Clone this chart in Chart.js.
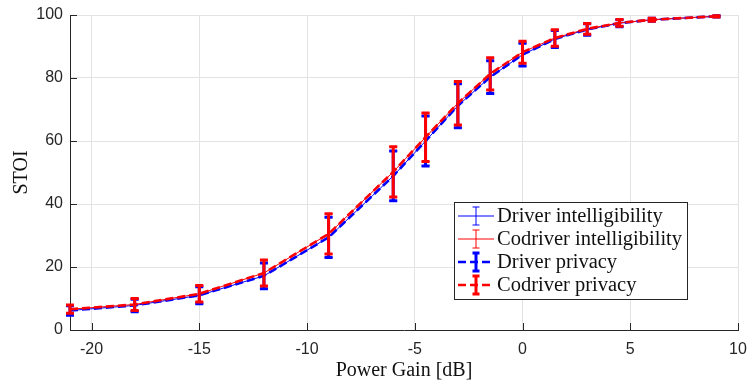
<!DOCTYPE html>
<html lang="en">
<head>
<meta charset="UTF-8">
<title>STOI vs Power Gain</title>
<script src="https://cdn.jsdelivr.net/npm/chart.js@4.4.0/dist/chart.umd.min.js"></script>
<style>
    body { margin: 0; background: #fff; }
    #wrap { width: 747px; height: 380px; }
</style>
</head>
<body>
<div id="wrap"><canvas id="stoi" width="747" height="380"></canvas></div>
<script>
// power gain in dB (x positions of the measurements)
const gains = [-21, -18, -15, -12, -9, -6, -4.5, -3, -1.5, 0, 1.5, 3, 4.5, 6, 9];

// STOI means and half-widths of the error bars
const driverIntel      = [6.2, 7.8, 11.0, 17.2, 29.4, 48.9, 60.0, 71.2, 80.3, 87.4, 92.4, 95.4, 97.4, 98.5, 99.6];
const driverIntelErr   = [1.5, 2.0, 2.7, 4.1, 6.4, 7.9, 7.9, 7.0, 5.2, 3.6, 2.7, 1.8, 1.1, 0.5, 0.2];
const codriverIntel    = [6.6, 8.1, 11.5, 18.1, 30.5, 50.2, 61.2, 72.0, 81.3, 88.2, 92.7, 95.6, 97.5, 98.5, 99.6];
const codriverIntelErr = [1.3, 1.9, 2.6, 4.1, 6.4, 8.0, 7.7, 6.9, 5.1, 3.5, 2.6, 1.7, 1.1, 0.5, 0.2];
const driverPriv       = [6.2, 7.8, 11.0, 17.2, 29.4, 48.9, 60.0, 71.2, 80.3, 87.4, 92.4, 95.4, 97.4, 98.5, 99.6];
const driverPrivErr    = [1.5, 2.0, 2.7, 4.1, 6.4, 7.9, 7.9, 7.0, 5.2, 3.6, 2.7, 1.8, 1.1, 0.5, 0.2];
const codriverPriv     = [6.6, 8.1, 11.5, 18.1, 30.5, 50.2, 61.2, 72.0, 81.3, 88.2, 92.7, 95.6, 97.5, 98.5, 99.6];
const codriverPrivErr  = [1.3, 1.9, 2.6, 4.1, 6.4, 8.0, 7.7, 6.9, 5.1, 3.5, 2.6, 1.7, 1.1, 0.5, 0.2];

const seriesLabels = ['Driver intelligibility', 'Codriver intelligibility', 'Driver privacy', 'Codriver privacy'];
const xTicks = [-20, -15, -10, -5, 0, 5, 10];
const yTicks = [0, 20, 40, 60, 80, 100];

const AXIS = '#262626';
const SERIF = '"Liberation Serif", "DejaVu Serif", serif';
const SANS = '"Liberation Sans", Arial, sans-serif';

function points(ys) {
    return gains.map((g, i) => ({ x: g, y: ys[i] }));
}

function series(label, ys, errs, color, dashed, order) {
    return {
        label: label,
        data: points(ys),
        errors: errs,
        borderColor: color,
        backgroundColor: color,
        borderWidth: dashed ? 2.6 : 1,
        borderDash: dashed ? [8, 4] : [],
        barWidth: dashed ? 3 : 1,
        pointRadius: 0,
        tension: 0,
        order: order
    };
}

// draws the error bars right after each line, so the stacking follows the lines
const errorBars = {
    id: 'errorBars',
    afterDatasetDraw(chart, args) {
        const ds = chart.data.datasets[args.index];
        if (!ds.errors) return;
        const xs = chart.scales.x, ys = chart.scales.y, ctx = chart.ctx;
        const cap = 4;
        ctx.save();
        ctx.strokeStyle = ds.borderColor;
        ctx.lineWidth = ds.barWidth;
        ctx.setLineDash([]);
        ds.data.forEach((p, i) => {
            const px = xs.getPixelForValue(p.x);
            const top = ys.getPixelForValue(p.y + ds.errors[i]);
            const bot = ys.getPixelForValue(p.y - ds.errors[i]);
            ctx.beginPath();
            ctx.moveTo(px, top); ctx.lineTo(px, bot);
            ctx.moveTo(px - cap, top); ctx.lineTo(px + cap, top);
            ctx.moveTo(px - cap, bot); ctx.lineTo(px + cap, bot);
            ctx.stroke();
        });
        ctx.restore();
    }
};

// MATLAB style inward tick marks
const innerTicks = {
    id: 'innerTicks',
    afterDatasetsDraw(chart) {
        const ctx = chart.ctx, a = chart.chartArea;
        ctx.save();
        ctx.strokeStyle = AXIS;
        ctx.lineWidth = 1;
        ctx.beginPath();
        yTicks.forEach(v => {
            const py = Math.round(chart.scales.y.getPixelForValue(v)) + 0.5;
            ctx.moveTo(a.left, py); ctx.lineTo(a.left + 7, py);
        });
        xTicks.forEach(v => {
            const px = Math.round(chart.scales.x.getPixelForValue(v)) + 0.5;
            ctx.moveTo(px, a.bottom); ctx.lineTo(px, a.bottom - 7);
        });
        ctx.stroke();
        ctx.restore();
    }
};

const boxLegend = {
    id: 'boxLegend',
    afterDraw(chart) {
        const ctx = chart.ctx;
        const bx = 454, by = 202, bw = 233, bh = 97;
        ctx.save();
        ctx.fillStyle = '#fff';
        ctx.fillRect(bx, by, bw, bh);
        ctx.strokeStyle = AXIS;
        ctx.lineWidth = 1;
        ctx.strokeRect(bx + 0.5, by + 0.5, bw, bh);
        chart.data.datasets.forEach((ds, i) => {
            const cy = by + 14 + i * 23;
            ctx.strokeStyle = ds.borderColor;
            ctx.lineWidth = ds.borderWidth;
            ctx.setLineDash(ds.borderDash);
            ctx.beginPath();
            ctx.moveTo(458, cy); ctx.lineTo(494, cy);
            ctx.stroke();
            ctx.setLineDash([]);
            ctx.lineWidth = ds.barWidth;
            ctx.beginPath();
            ctx.moveTo(476, cy - 9); ctx.lineTo(476, cy + 9);
            ctx.moveTo(472.5, cy - 9); ctx.lineTo(479.5, cy - 9);
            ctx.moveTo(472.5, cy + 9); ctx.lineTo(479.5, cy + 9);
            ctx.stroke();
            ctx.fillStyle = '#111';
            ctx.font = '20.5px ' + SERIF;
            ctx.textBaseline = 'middle';
            ctx.fillText(ds.label, 497, cy + 1);
        });
        ctx.restore();
    }
};

new Chart(document.getElementById('stoi'), {
    type: 'line',
    data: {
        datasets: [
            series(seriesLabels[0], driverIntel, driverIntelErr, '#0000ff', false, 4),
            series(seriesLabels[1], codriverIntel, codriverIntelErr, '#ff0000', false, 3),
            series(seriesLabels[2], driverPriv, driverPrivErr, '#0000ff', true, 2),
            series(seriesLabels[3], codriverPriv, codriverPrivErr, '#ff0000', true, 1)
        ]
    },
    options: {
        responsive: false,
        animation: false,
        layout: { padding: { top: 15, right: 9, left: 0, bottom: 0 } },
        plugins: {
            legend: { display: false },
            tooltip: { enabled: false }
        },
        scales: {
            x: {
                type: 'linear',
                min: -21,
                max: 10,
                afterBuildTicks: s => { s.ticks = xTicks.map(v => ({ value: v })); },
                afterFit: s => { s.height = 50; s.paddingLeft = 0; s.paddingRight = 0; },
                grid: { color: '#e3e3e3', drawTicks: false },
                border: { display: true, color: AXIS },
                ticks: { color: AXIS, font: { family: SANS, size: 16 }, padding: 10, maxRotation: 0 },
                title: { display: true, text: 'Power Gain [dB]', color: '#111', font: { family: SERIF, size: 20 }, padding: { top: 0, bottom: -3 } }
            },
            y: {
                min: 0,
                max: 100,
                afterBuildTicks: s => { s.ticks = yTicks.map(v => ({ value: v })); },
                afterFit: s => { s.width = 70; s.paddingTop = 0; s.paddingBottom = 0; },
                grid: { color: '#e3e3e3', drawTicks: false },
                border: { display: true, color: AXIS },
                ticks: { color: AXIS, font: { family: SANS, size: 16 }, padding: 7 },
                title: { display: true, text: 'STOI', color: '#111', font: { family: SERIF, size: 20 }, padding: { top: 10, bottom: 0 } }
            }
        }
    },
    plugins: [errorBars, innerTicks, boxLegend]
});
</script>
</body>
</html>
